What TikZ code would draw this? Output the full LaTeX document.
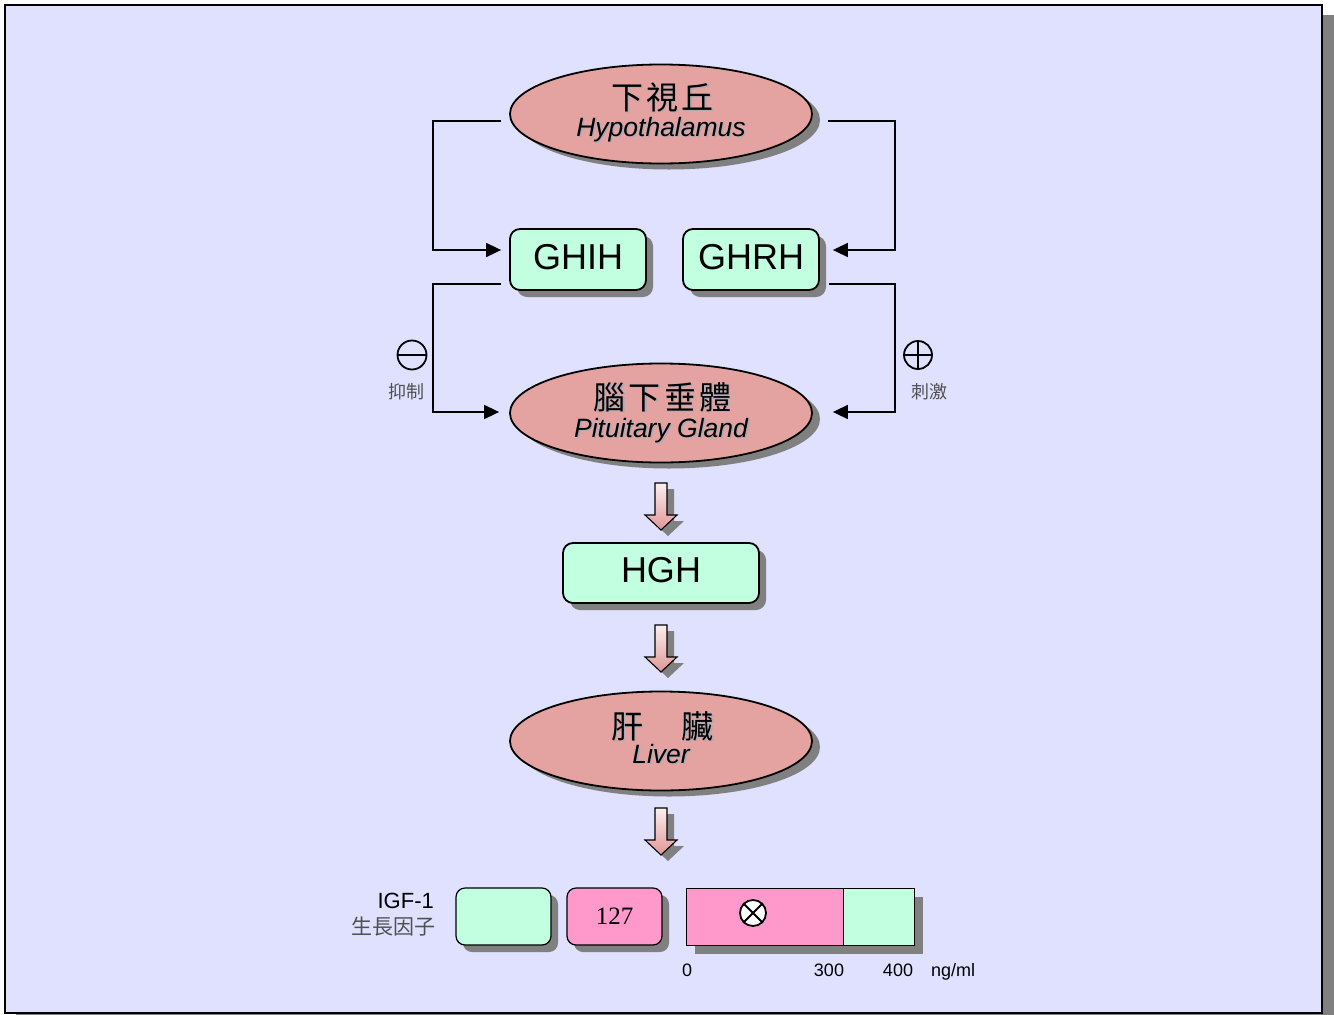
\documentclass[tikz,border=0pt]{standalone}
\usepackage{fontspec}
\setmainfont{Liberation Sans}
\newfontfamily\cjk{Noto Sans CJK TC}
\newfontfamily\cjkwide[LetterSpace=10]{Noto Sans CJK TC}
\newfontfamily\numserif{Liberation Serif}
\usetikzlibrary{shapes.geometric,arrows.meta,calc,shadows}

\definecolor{paper}{HTML}{E0E0FF}
\definecolor{organfill}{HTML}{E4A2A0}
\definecolor{mint}{HTML}{C2FFE0}
\definecolor{rose}{HTML}{FF99CC}
\definecolor{shadowgray}{HTML}{808080}
\definecolor{textshade}{HTML}{ABABBA}
\definecolor{labelgray}{HTML}{505050}
\definecolor{arrowtop}{HTML}{FCEEEE}
\definecolor{arrowbot}{HTML}{E09696}

% label with a faint offset copy behind it
\newcommand\liftedlabel[4]{%
  \node[#3, text=textshade] (#1-s) at ($(#2)+(1.5,1.5)$) {#4};
  \node[#3] (#1) at (#2) {#4};}

\tikzset{
  organ/.style={ellipse, draw, line width=1.8pt, fill=organfill,
    minimum width=302pt, minimum height=99pt, inner sep=0pt,
    drop shadow={shadow xshift=8pt, shadow yshift=-6pt, fill=shadowgray, opacity=1}},
  hormone/.style={rectangle, rounded corners=10pt, draw, line width=1.8pt, fill=mint,
    minimum width=136pt, minimum height=61pt, inner sep=0pt,
    text height=26pt, text depth=7pt,
    font=\fontsize{36}{40}\selectfont,
    drop shadow={shadow xshift=7pt, shadow yshift=-7pt, fill=shadowgray, opacity=1}},
  igfbox/.style={rectangle, rounded corners=9pt, draw, line width=1.2pt,
    minimum width=95pt, minimum height=57pt, inner sep=0pt,
    drop shadow={shadow xshift=7pt, shadow yshift=-7pt, fill=shadowgray, opacity=1}},
  barpart/.style={rectangle, draw, line width=1.2pt, minimum height=57pt,
    inner sep=0pt, anchor=north west,
    drop shadow={shadow xshift=8pt, shadow yshift=-8pt, fill=shadowgray, opacity=1}},
  zhname/.style={font=\cjkwide\fontsize{32}{36}\selectfont, inner sep=0pt},
  enname/.style={font=\itshape\fontsize{26.5}{30}\selectfont, inner sep=0pt, anchor=base},
  link/.style={line width=1.7pt},
  linkarrow/.style={link, -{Triangle[length=15pt, width=14pt]}},
  signcircle/.style={circle, draw, line width=1.8pt, minimum size=29pt, inner sep=0pt},
  smallzh/.style={font=\cjk\fontsize{18}{20}\selectfont, text=labelgray, inner sep=0pt},
  scale label/.style={font=\fontsize{18}{20}\selectfont, anchor=base, inner sep=0pt},
  downarrow/.pic={
    \fill[shadowgray, shift={(7,6)}] (-6,0) -- (6,0) -- (6,32) -- (16,32) -- (0,47)
      -- (-16,32) -- (-6,32) -- cycle;
    \shade[top color=arrowtop, bottom color=arrowbot, draw=black, line width=1.1pt]
      (-6,0) -- (6,0) -- (6,32) -- (16,32) -- (0,47) -- (-16,32) -- (-6,32) -- cycle;
  }
}

\begin{document}
\begin{tikzpicture}[x=1pt, y=-1pt]
\useasboundingbox (0,0) rectangle (1334,1015);

% page frame with its shadow
\fill[shadowgray] (16,15) rectangle (1334,1015);
\draw[fill=paper, line width=2.2pt] (5,5) rectangle (1322,1013);

% organs and hormones
\node[organ] (hyp) at (661,114) {};
\liftedlabel{hypzh}{$(hyp.center)+(1.5,-17)$}{zhname}{下視丘}
\liftedlabel{hypen}{$(hyp.center)+(0,22)$}{enname}{Hypothalamus}

\node[hormone] (ghih) at (578,259.5) {GHIH};
\node[hormone] (ghrh) at (751,259.5) {GHRH};

\node[organ] (pit) at (661,413) {};
\liftedlabel{pitzh}{$(pit.center)+(1.5,-16)$}{zhname}{腦下垂體}
\liftedlabel{piten}{$(pit.center)+(0,24)$}{enname}{Pituitary Gland}

\node[hormone, minimum width=196pt, minimum height=60pt] (hgh) at (661,573) {HGH};

\node[organ] (liv) at (661,741) {};
\liftedlabel{livzh}{$(liv.center)+(1.5,-15)$}{zhname}{肝　臟}
\liftedlabel{liven}{$(liv.center)+(0,22)$}{enname}{Liver}

% block arrows down the chain
\pic at (661,483) {downarrow};
\pic at (661,625) {downarrow};
\pic at (661,808) {downarrow};

% hypothalamus to releasing / inhibiting hormones
\coordinate (hypL) at ($(hyp.west)+(-8,7)$);
\coordinate (hypR) at ($(hyp.east)+(15,7)$);
\coordinate (ghihIn) at ($(ghih.west)+(-8,-9.5)$);
\coordinate (ghrhIn) at ($(ghrh.east)+(13,-9.5)$);
\draw[linkarrow] (hypL) -- ++(-68,0) |- (ghihIn);
\draw[linkarrow] (hypR) -- ++(67,0) |- (ghrhIn);

% hormones acting on the pituitary
\coordinate (ghihOut) at ($(ghih.west)+(-8,24.5)$);
\coordinate (ghrhOut) at ($(ghrh.east)+(9,24.5)$);
\coordinate (pitL) at ($(pit.west)+(-10,-1)$);
\coordinate (pitR) at ($(pit.east)+(20,-1)$);
\draw[linkarrow] (ghihOut) -- ++(-68,0) |- (pitL);
\draw[linkarrow] (ghrhOut) -- ++(66,0) |- (pitR);

% inhibition / stimulation signs
\node[signcircle] (minus) at (412,355) {};
\draw[line width=1.8pt] (minus.west) -- (minus.east);
\node[smallzh] (inhib) at (406,392) {抑制};
\node[signcircle, minimum size=28pt] (plus) at (918,355) {};
\draw[line width=1.8pt] (plus.west) -- (plus.east) (plus.north) -- (plus.south);
\node[smallzh] (stim) at (929,392) {刺激};

% IGF-1 result row
\node[anchor=base east, font=\fontsize{22}{24}\selectfont, inner sep=0pt] (igf) at (434,908) {IGF-1};
\node[anchor=east, font=\cjk\fontsize{21}{24}\selectfont, text=labelgray, inner sep=0pt] (igfzh) at (436,927) {生長因子};

\node[igfbox, fill=mint] (igfA) at (503.5,916.5) {};
\node[igfbox, fill=rose, font=\numserif\fontsize{25}{28}\selectfont] (igfB) at (614.5,916.5) {127};

\node[barpart, fill=rose, minimum width=157pt] (barlow) at (686,888) {};
\node[barpart, fill=mint, minimum width=71pt] (barhigh) at (843,888) {};

\node[circle, draw, fill=white, line width=1.8pt, minimum size=26pt, inner sep=0pt] (mark) at (753,913) {};
\draw[line width=1.8pt] (mark.north west) -- (mark.south east) (mark.north east) -- (mark.south west);

\node[scale label] (s0) at (687,976) {0};
\node[scale label] (s300) at (829,976) {300};
\node[scale label] (s400) at (898,976) {400};
\node[scale label, anchor=base west] (unit) at (931,976) {ng/ml};
\end{tikzpicture}
\end{document}
